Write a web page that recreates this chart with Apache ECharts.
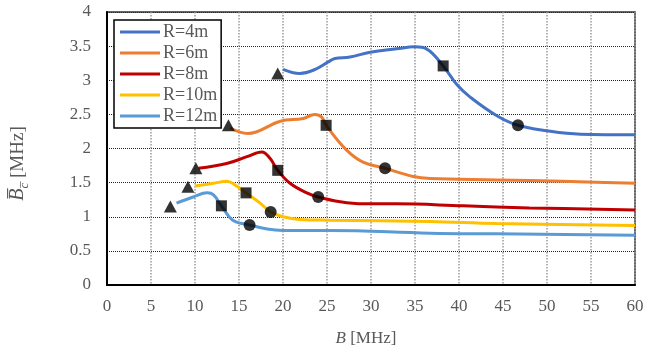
<!DOCTYPE html>
<html>
<head>
<meta charset="utf-8">
<script src="https://cdn.jsdelivr.net/npm/echarts@6/dist/echarts.min.js"></script>
<style>
  html, body { margin: 0; padding: 0; background: #fff; }
  #chart { width: 660px; height: 356px; }
</style>
</head>
<body>
<div id="chart"></div>
<script>
// curve samples [B, Bc]
const names = ['R=4m', 'R=6m', 'R=8m', 'R=10m', 'R=12m']
const colors = ['#4472C4', '#ED7D31', '#C00000', '#FFC000', '#5B9BD5']

const r4 = [[20, 3.16], [21.9, 3.1], [23.5, 3.15], [25.3, 3.28], [25.9, 3.32], [27.6, 3.34], [29.9, 3.41], [32.9, 3.46], [35, 3.49], [36.3, 3.46], [38.2, 3.21], [39.8, 2.93], [41.3, 2.75], [44.3, 2.48], [46.7, 2.34], [50, 2.26], [53.8, 2.21], [60, 2.2]]
const r6 = [[14, 2.3], [16, 2.22], [19.7, 2.4], [22.3, 2.44], [23.6, 2.5], [24.4, 2.46], [24.9, 2.34], [27.2, 1.98], [29.1, 1.8], [31.6, 1.71], [34.8, 1.59], [36.7, 1.56], [44.3, 1.54], [51.8, 1.52], [60, 1.49]]
const r8 = [[10.4, 1.71], [13.6, 1.78], [15.9, 1.88], [17.6, 1.95], [18.5, 1.86], [19.4, 1.68], [20.8, 1.49], [22.7, 1.35], [24, 1.29], [26.5, 1.22], [29.1, 1.19], [32.9, 1.19], [40.5, 1.16], [48, 1.13], [60, 1.1]]
const r10 = [[10, 1.45], [12.1, 1.49], [13.6, 1.52], [14.5, 1.47], [15.8, 1.35], [17.4, 1.2], [18.6, 1.07], [20, 1.0], [21.9, 0.96], [25.3, 0.95], [36.7, 0.93], [44.3, 0.9], [60, 0.87]]
const r12 = [[7.9, 1.2], [9.8, 1.29], [11.4, 1.35], [12.1, 1.32], [13, 1.16], [14.3, 0.95], [16.2, 0.88], [18.2, 0.82], [20, 0.8], [25.3, 0.8], [36.7, 0.76], [44.3, 0.75], [60, 0.73]]

// black markers
const triangles = [[19.4, 3.1], [13.8, 2.34], [10.1, 1.71], [9.2, 1.44], [7.2, 1.15]]
const squares = [[38.2, 3.21], [24.9, 2.34], [19.4, 1.68], [15.8, 1.35], [13, 1.16]]
const circles = [[46.7, 2.34], [31.6, 1.71], [24, 1.29], [18.6, 1.07], [16.2, 0.88]]

const curves = [r4, r6, r8, r10, r12]
const font = 'Liberation Serif'
const grey = '#595959'

const chart = echarts.init(document.getElementById('chart'))

const lineSeries = curves.map((d, i) => ({
  name: names[i],
  type: 'line',
  data: d,
  smooth: 0.4,
  symbol: 'none',
  lineStyle: { width: 3, color: colors[i] },
  itemStyle: { color: colors[i] },
  z: 2,
}))

const markSeries = [
  { data: triangles, symbol: 'triangle', symbolSize: [13, 12] },
  { data: squares, symbol: 'rect', symbolSize: 11 },
  { data: circles, symbol: 'circle', symbolSize: 12 },
].map(m => ({
  type: 'scatter',
  data: m.data,
  symbol: m.symbol,
  symbolSize: m.symbolSize,
  itemStyle: { color: '#000' },
  z: 5,
}))

chart.setOption({
  animation: false,
  backgroundColor: '#fff',
  textStyle: { fontFamily: font },
  grid: {
    left: 107, right: 25, top: 12, bottom: 71,
    show: true, borderColor: '#333', borderWidth: 1.5,
  },
  legend: {
    data: names,
    orient: 'vertical',
    left: 114, top: 20,
    backgroundColor: '#fff',
    borderColor: '#000',
    borderWidth: 1.5,
    padding: [3, 4, 3, 6],
    icon: 'rect',
    itemWidth: 40,
    itemHeight: 3,
    itemGap: 3,
    textStyle: { fontFamily: font, fontSize: 18, color: grey, padding: [0, 0, 0, -2] },
  },
  xAxis: {
    type: 'value',
    min: 0, max: 60, interval: 5,
    name: '{i|B} [MHz]',
    nameLocation: 'middle',
    nameGap: 45,
    nameTextStyle: {
      fontFamily: font, fontSize: 17, color: grey, padding: [0, 10, 0, 0],
      rich: { i: { fontFamily: font, fontSize: 17, fontStyle: 'italic', color: grey } },
    },
    axisLine: { lineStyle: { color: '#000', width: 2 } },
    axisTick: { show: false },
    axisLabel: { fontFamily: font, fontSize: 17, color: grey, margin: 13 },
    splitLine: { show: true, lineStyle: { color: '#9a9a9a', type: 'dotted', width: 1.5 } },
  },
  yAxis: {
    type: 'value',
    min: 0, max: 4, interval: 0.5,
    name: '{i|B\u0305}{s|c\u0305} [MHz]',
    nameLocation: 'middle',
    nameGap: 76,
    nameTextStyle: {
      fontFamily: font, fontSize: 19, color: grey, padding: [0, 30, 0, 0],
      rich: {
        i: { fontFamily: font, fontSize: 20, fontStyle: 'italic', color: grey, lineHeight: 26 },
        s: { fontFamily: font, fontSize: 13, fontStyle: 'italic', color: grey, verticalAlign: 'bottom', lineHeight: 16 },
      },
    },
    axisLine: { show: true, lineStyle: { color: '#000', width: 2 } },
    axisTick: { show: false },
    axisLabel: { fontFamily: font, fontSize: 17, color: grey, margin: 16 },
    splitLine: { show: true, lineStyle: { color: '#222', type: 'dotted', width: 1 } },
  },
  series: [...lineSeries, ...markSeries],
})
</script>
</body>
</html>
